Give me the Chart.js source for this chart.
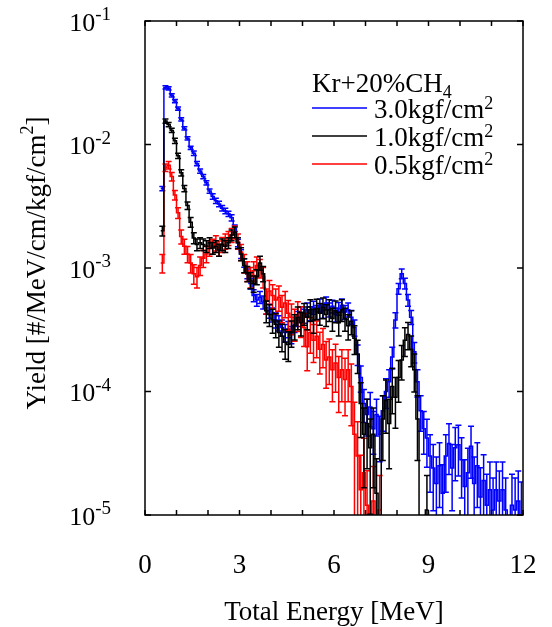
<!DOCTYPE html>
<html>
<head>
<meta charset="utf-8">
<script src="https://cdn.jsdelivr.net/npm/chart.js@4/dist/chart.umd.min.js"></script>
<style>
  html, body { margin: 0; padding: 0; background: #fff; }
</style>
</head>
<body>
<canvas id="yieldChart" width="552" height="627"></canvas>
<script>
// histogram binning (MeV)
const binStart = 0.5;
const binWidth = 0.1;

// axis ticks
const xTickLabels = [0, 3, 6, 9, 12];
const xMinorStep = 1;
const yDecades = [-1, -2, -3, -4, -5];

const gasLabel = 'Kr+20%CH';
const seriesLabels = ['3.0kgf/cm', '1.0kgf/cm', '0.5kgf/cm'];
const seriesColors = ['#0000ff', '#000000', '#ff0000'];

// 3.0 kgf/cm2 yield per bin, from 0.5 MeV
const yield30 = [
  4.4e-3, 2.9e-2, 2.85e-2, 2.5e-2, 2.25e-2, 1.95e-2, 1.6e-2, 1.35e-2, 1.12e-2, 9.4e-3,
  8.5e-3, 7.0e-3, 6.1e-3, 5.5e-3, 4.9e-3, 4.2e-3, 3.8e-3, 3.5e-3, 3.3e-3, 3.05e-3,
  2.9e-3, 2.75e-3, 2.55e-3, 2.1e-3, 1.6e-3, 1.3e-3, 1.1e-3, 9.0e-4, 7.5e-4, 6.0e-4,
  5.5e-4, 5.8e-4, 5.3e-4, 4.8e-4, 4.5e-4, 4.2e-4, 3.8e-4, 3.6e-4, 3.3e-4, 3.0e-4,
  3.2e-4, 2.9e-4, 3.5e-4, 3.9e-4, 4.3e-4, 4.1e-4, 4.6e-4, 4.3e-4, 4.8e-4, 4.4e-4,
  5.0e-4, 4.5e-4, 5.2e-4, 4.6e-4, 4.9e-4, 4.2e-4, 4.7e-4, 5.0e-4, 4.4e-4, 4.6e-4,
  4.0e-4, 3.3e-4, 2.0e-4, 1.3e-4, 8.0e-5, 6.5e-5, 7.5e-5, 5.0e-5, 6.5e-5, 4.5e-5,
  7.0e-5, 1.0e-4, 1.2e-4, 1.9e-4, 3.8e-4, 6.8e-4, 9.0e-4, 7.5e-4, 5.5e-4, 4.0e-4,
  2.1e-4, 1.2e-4, 7.0e-5, 5.0e-5, 4.2e-5, 3.0e-5, 2.4e-5, 1.8e-5, 2.5e-5, 1.5e-5,
  3.0e-5, 3.8e-5, 2.4e-5, 3.5e-5, 3.7e-5, 2.8e-5, 1.7e-5, 2.2e-5, 3.6e-5, 1.8e-5,
  2.5e-5, 1.4e-5, 1.9e-5, 1.2e-5, 1.6e-5, 1.1e-5, 1.6e-5, 1.3e-5, 1.6e-5, 1.1e-5,
  0, 1.2e-5, 1.1e-5, 1.3e-5, 1.0e-5
];
// relative errors in percent
const err30 = [
  4, 3, 3, 3, 3, 3, 3, 3, 3, 3,
  4, 4, 4, 4, 4, 4, 5, 5, 5, 5,
  5, 5, 6, 6, 7, 8, 8, 9, 10, 11,
  11, 11, 12, 12, 13, 13, 14, 14, 15, 16,
  15, 16, 14, 14, 13, 13, 13, 13, 12, 13,
  12, 13, 12, 13, 12, 13, 12, 12, 13, 13,
  13, 15, 19, 24, 30, 33, 31, 38, 33, 40,
  32, 27, 25, 20, 14, 10, 9, 10, 11, 13,
  19, 25, 32, 38, 42, 49, 55, 64, 54, 70,
  49, 44, 55, 46, 44, 51, 65, 58, 45, 64,
  54, 72, 62, 78, 68, 81, 68, 75, 68, 81,
  0, 78, 81, 75, 85
];

// 1.0 kgf/cm2
const yield10 = [
  2.0e-3, 1.55e-2, 1.45e-2, 1.3e-2, 1.07e-2, 8.1e-3, 5.9e-3, 4.4e-3, 3.2e-3, 2.35e-3,
  1.75e-3, 1.55e-3, 1.6e-3, 1.55e-3, 1.5e-3, 1.6e-3, 1.45e-3, 1.5e-3, 1.4e-3, 1.55e-3,
  1.5e-3, 1.6e-3, 1.85e-3, 1.95e-3, 1.6e-3, 1.3e-3, 1.05e-3, 9.0e-4, 8.0e-4, 7.5e-4,
  8.5e-4, 1.1e-3, 9.0e-4, 4.5e-4, 4.2e-4, 3.8e-4, 3.5e-4, 3.0e-4, 2.8e-4, 2.5e-4,
  2.4e-4, 3.0e-4, 3.4e-4, 4.0e-4, 3.6e-4, 4.3e-4, 4.0e-4, 4.6e-4, 3.8e-4, 4.7e-4,
  4.3e-4, 4.8e-4, 4.2e-4, 4.6e-4, 3.9e-4, 4.5e-4, 3.6e-4, 4.6e-4, 3.9e-4, 3.4e-4,
  3.7e-4, 2.7e-4, 2.0e-4, 8.0e-5, 4.5e-5, 5.5e-5, 3.5e-5, 4.5e-5, 1.5e-5, 0,
  6.0e-5, 8.5e-5, 5.5e-5, 1.1e-4, 9.0e-5, 1.3e-4, 1.8e-4, 2.6e-4, 2.9e-4, 2.2e-4,
  1.5e-4, 6.0e-5, 0, 0, 1.1e-5
];
const err10 = [
  9, 4, 4, 4, 5, 5, 6, 6, 7, 9,
  10, 11, 10, 11, 11, 10, 11, 11, 11, 11,
  11, 10, 10, 10, 10, 12, 13, 14, 15, 15,
  14, 13, 14, 20, 20, 22, 22, 24, 25, 27,
  27, 24, 23, 21, 22, 20, 21, 20, 22, 19,
  20, 19, 20, 20, 21, 20, 22, 20, 21, 23,
  22, 26, 30, 47, 63, 57, 71, 63, 90, 0,
  54, 46, 57, 40, 44, 37, 31, 26, 25, 28,
  34, 54, 0, 0, 90
];

// 0.5 kgf/cm2
const yield05 = [
  1.1e-3, 6.5e-3, 6.8e-3, 5.5e-3, 3.9e-3, 2.8e-3, 1.8e-3, 1.5e-3, 1.3e-3, 1.1e-3,
  9.0e-4, 8.5e-4, 1.05e-3, 1.2e-3, 1.3e-3, 1.45e-3, 1.5e-3, 1.6e-3, 1.45e-3, 1.55e-3,
  1.65e-3, 1.75e-3, 1.85e-3, 1.95e-3, 1.65e-3, 1.35e-3, 1.1e-3, 9.5e-4, 8.5e-4, 9.5e-4,
  1.05e-3, 1.0e-3, 8.5e-4, 5.5e-4, 6.5e-4, 6.0e-4, 5.5e-4, 5.8e-4, 4.8e-4, 5.2e-4,
  4.3e-4, 4.0e-4, 3.6e-4, 4.2e-4, 3.8e-4, 3.3e-4, 2.3e-4, 3.0e-4, 2.6e-4, 2.8e-4,
  2.2e-4, 2.4e-4, 1.8e-4, 1.9e-4, 1.5e-4, 1.7e-4, 1.3e-4, 1.5e-4, 1.25e-4, 1.5e-4,
  1.1e-4, 4.5e-5, 3.0e-5, 1.6e-5, 2.2e-5, 1.2e-5, 0, 1.3e-5, 0, 1.1e-5
];
const err05 = [
  17, 7, 7, 8, 9, 10, 13, 14, 15, 17,
  18, 19, 17, 16, 15, 14, 14, 14, 14, 14,
  14, 13, 13, 12, 14, 15, 17, 18, 19, 18,
  17, 17, 19, 23, 22, 22, 23, 23, 25, 24,
  27, 28, 29, 27, 28, 30, 36, 32, 34, 33,
  37, 35, 41, 40, 45, 42, 48, 45, 49, 45,
  52, 82, 90, 90, 90, 90, 0, 90, 0, 90
];

const FONT = '"Liberation Serif", "Times New Roman", serif';
const EMPTY = 1e-8; // empty bins drop below the axis

// step line through bin edges
function histPoints(vals) {
  const pts = vals.map((v, i) => ({ x: binStart + i * binWidth, y: v > 0 ? v : EMPTY }));
  const last = vals[vals.length - 1];
  pts.push({ x: binStart + vals.length * binWidth, y: last > 0 ? last : EMPTY });
  return pts;
}

function makeSet(label, vals, errs, color) {
  return {
    label: label,
    data: histPoints(vals),
    vals: vals,
    errs: errs,
    borderColor: color,
    borderWidth: 1.5,
    stepped: 'before',
    pointRadius: 0,
    fill: false
  };
}

// error bars with caps, drawn right after each dataset's line
const errorBars = {
  id: 'errorBars',
  afterDatasetDraw(chart, args) {
    const ds = chart.data.datasets[args.index];
    const { ctx, chartArea: a, scales: { x, y } } = chart;
    ctx.save();
    ctx.beginPath();
    ctx.rect(a.left, a.top, a.right - a.left, a.bottom - a.top);
    ctx.clip();
    ctx.strokeStyle = ds.borderColor;
    ctx.lineWidth = 1.5;
    ds.vals.forEach((v, i) => {
      const e = ds.errs[i];
      if (!(v > 0) || !e) return;
      const px = x.getPixelForValue(binStart + (i + 0.5) * binWidth);
      const hi = y.getPixelForValue(v * (1 + e / 100));
      const lo = y.getPixelForValue(Math.max(v * (1 - e / 100), EMPTY));
      ctx.beginPath();
      ctx.moveTo(px, hi); ctx.lineTo(px, lo);
      ctx.moveTo(px - 3, hi); ctx.lineTo(px + 3, hi);
      ctx.moveTo(px - 3, lo); ctx.lineTo(px + 3, lo);
      ctx.stroke();
    });
    ctx.restore();
  }
};

function textWithSup(ctx, parts, x, y, align) {
  // parts: [text, size, dy]
  const widths = parts.map(p => { ctx.font = p[1] + 'px ' + FONT; return ctx.measureText(p[0]).width; });
  const total = widths.reduce((s, w) => s + w, 0);
  let cx = align === 'right' ? x - total : align === 'center' ? x - total / 2 : x;
  ctx.textAlign = 'left';
  ctx.textBaseline = 'alphabetic';
  parts.forEach((p, i) => {
    ctx.font = p[1] + 'px ' + FONT;
    ctx.fillText(p[0], cx, y + p[2]);
    cx += widths[i];
  });
}

// frame, inward ticks, labels, titles and legend
const frame = {
  id: 'frame',
  afterDraw(chart) {
    const { ctx, chartArea: a, scales: { x, y } } = chart;
    ctx.save();
    ctx.strokeStyle = '#000';
    ctx.fillStyle = '#000';
    ctx.lineWidth = 1.5;
    ctx.strokeRect(a.left, a.top, a.right - a.left, a.bottom - a.top);

    ctx.beginPath();
    for (let v = x.min; v <= x.max; v += xMinorStep) {
      const px = x.getPixelForValue(v);
      ctx.moveTo(px, a.bottom); ctx.lineTo(px, a.bottom - 5);
      ctx.moveTo(px, a.top); ctx.lineTo(px, a.top + 5);
    }
    yDecades.forEach(d => {
      const py = y.getPixelForValue(Math.pow(10, d));
      ctx.moveTo(a.left, py); ctx.lineTo(a.left + 6, py);
      ctx.moveTo(a.right, py); ctx.lineTo(a.right - 6, py);
    });
    ctx.stroke();

    ctx.font = '27px ' + FONT;
    ctx.textAlign = 'center';
    ctx.textBaseline = 'alphabetic';
    xTickLabels.forEach(v => ctx.fillText(String(v), x.getPixelForValue(v), a.bottom + 58));
    ctx.fillText('Total Energy [MeV]', (a.left + a.right) / 2, a.bottom + 105);

    yDecades.forEach(d => {
      const py = y.getPixelForValue(Math.pow(10, d));
      textWithSup(ctx, [['10', 26, 9.5], ['-' + Math.abs(d), 19, -1]], a.left - 34, py, 'right');
    });

    ctx.save();
    ctx.translate(45, (a.top + a.bottom) / 2 - 5);
    ctx.rotate(-Math.PI / 2);
    textWithSup(ctx, [['Yield [#/MeV/cm/kgf/cm', 27, 0], ['2', 18, -12], [']', 27, 0]], 0, 0, 'center');
    ctx.restore();

    // legend
    const lx = a.left + 167;
    textWithSup(ctx, [[gasLabel, 27, 0], ['4', 18, 6]], lx, 92, 'left');
    seriesLabels.forEach((lab, i) => {
      const ly = 108 + i * 28;
      ctx.strokeStyle = seriesColors[i];
      ctx.lineWidth = 1.5;
      ctx.beginPath();
      ctx.moveTo(lx, ly); ctx.lineTo(lx + 55, ly);
      ctx.stroke();
      ctx.fillStyle = '#000';
      textWithSup(ctx, [[lab, 27, 10], ['2', 18, 1]], lx + 62, ly, 'left');
    });
    ctx.restore();
  }
};

const ctx = document.getElementById('yieldChart').getContext('2d');
new Chart(ctx, {
  type: 'line',
  data: {
    // index 0 is painted last (on top)
    datasets: [
      makeSet('1.0kgf/cm2', yield10, err10, seriesColors[1]),
      makeSet('0.5kgf/cm2', yield05, err05, seriesColors[2]),
      makeSet('3.0kgf/cm2', yield30, err30, seriesColors[0])
    ]
  },
  options: {
    responsive: false,
    animation: false,
    layout: { padding: { left: 145, top: 21, right: 29, bottom: 112 } },
    scales: {
      x: { type: 'linear', min: 0, max: 12, display: false },
      y: { type: 'logarithmic', min: 1e-5, max: 1e-1, display: false }
    },
    plugins: {
      legend: { display: false },
      tooltip: { enabled: false }
    }
  },
  plugins: [errorBars, frame]
});
</script>
</body>
</html>
